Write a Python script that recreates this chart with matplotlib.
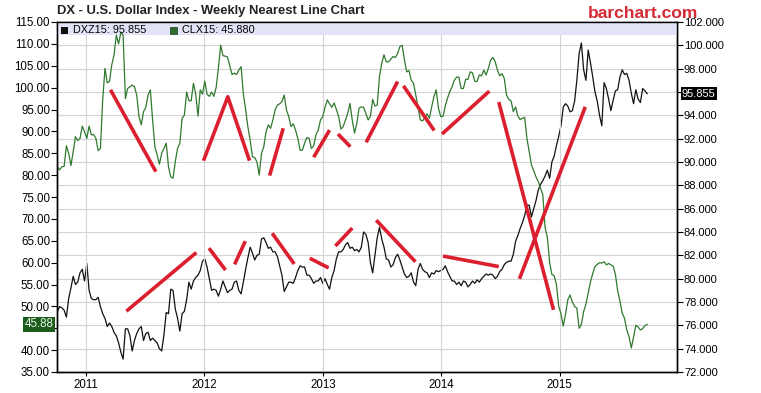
import numpy as np
import pandas as pd
import matplotlib
matplotlib.use("Agg")
import matplotlib.pyplot as plt
import matplotlib.dates as mdates
from matplotlib.patches import Rectangle
from matplotlib.ticker import FuncFormatter

plt.rcParams['font.family'] = ['Liberation Sans', 'DejaVu Sans']

# weekly closes
weeks = pd.date_range('2010-10-04', periods=261, freq='7D')

# CLX15 crude oil (left axis)
crude = [
    81.9, 81.2, 81.9, 82.0, 86.7, 85.0, 82.2, 85.4, 88.8, 87.9,
    88.4, 91.2, 89.9, 88.4, 91.2, 89.2, 89.3, 88.4, 85.6, 86.1,
    97.2, 104.4, 101.1, 101.4, 105.2, 107.5, 112.0, 110.0, 112.6, 112.0,
    97.5, 99.8, 100.2, 100.6, 100.2, 98.3, 93.4, 91.5, 94.5, 95.5,
    98.3, 99.5, 92.6, 86.5, 84.6, 82.5, 85.0, 86.1, 87.3, 81.9,
    79.6, 79.3, 83.1, 86.1, 87.3, 93.0, 93.7, 99.0, 97.0, 97.0,
    101.0, 98.5, 93.5, 99.5, 98.5, 101.5, 98.5, 98.0, 99.0, 98.0,
    100.0, 104.5, 109.7, 107.3, 107.2, 107.0, 105.0, 103.0, 103.3, 103.0,
    104.0, 104.8, 98.5, 95.0, 91.0, 88.0, 84.2, 84.0, 83.0, 80.0,
    85.0, 86.5, 89.9, 91.5, 90.7, 92.6, 94.9, 96.0, 96.3, 96.8,
    98.3, 94.9, 93.4, 91.1, 91.7, 90.3, 88.4, 85.7, 85.7, 87.3,
    88.6, 88.4, 86.1, 86.7, 89.2, 90.3, 92.6, 93.4, 95.5, 97.2,
    96.3, 95.5, 96.5, 95.0, 93.4, 90.5, 91.1, 92.6, 94.1, 96.4,
    92.6, 89.6, 91.8, 95.3, 95.6, 95.5, 94.1, 92.6, 93.4, 97.3,
    95.8, 96.0, 102.5, 105.6, 107.5, 105.9, 105.9, 106.5, 107.1, 106.9,
    107.8, 109.4, 109.7, 106.3, 103.6, 103.9, 101.7, 101.0, 98.3, 95.6,
    92.6, 92.4, 93.2, 94.0, 93.0, 95.6, 97.9, 99.5, 95.3, 93.4,
    93.4, 95.8, 97.6, 99.1, 100.2, 101.7, 102.4, 102.4, 99.8, 99.8,
    101.9, 101.9, 103.6, 103.4, 101.4, 101.4, 102.9, 102.7, 104.0, 102.9,
    104.4, 106.3, 106.9, 105.9, 104.0, 102.7, 103.2, 102.1, 98.3, 97.3,
    97.0, 94.5, 95.6, 93.5, 92.7, 93.0, 93.2, 88.4, 85.4, 82.3,
    81.0, 79.6, 78.5, 77.0, 75.5, 68.0, 65.8, 60.0, 57.3, 57.0,
    55.0, 50.0, 48.3, 45.5, 48.2, 51.5, 52.6, 51.0, 50.0, 49.6,
    45.0, 45.9, 48.8, 50.5, 53.0, 55.6, 57.5, 59.1, 59.6, 60.0,
    59.9, 60.2, 59.5, 59.8, 59.5, 59.2, 57.3, 53.5, 51.2, 48.4,
    47.3, 44.6, 43.1, 40.5, 43.0, 45.7, 45.3, 44.6, 44.9, 45.6,
    45.88,
]

# DXZ15 dollar index (right axis)
dollar = [
    77.2, 77.6, 77.5, 77.3, 76.7, 78.3, 79.2, 80.2, 79.5, 79.7,
    80.5, 80.8, 79.8, 81.3, 79.0, 78.3, 78.2, 78.2, 78.4, 77.6,
    77.0, 76.6, 75.9, 76.2, 75.9, 75.4, 75.1, 74.5, 73.7, 73.1,
    75.7, 75.7, 75.1, 73.8, 74.7, 75.3, 75.7, 75.9, 74.7, 75.3,
    75.4, 74.7, 74.9, 74.7, 74.5, 74.0, 73.8, 75.2, 77.1, 77.0,
    79.1, 79.0, 77.4, 76.6, 75.5, 77.0, 77.2, 78.2, 79.7, 79.1,
    79.8, 80.1, 80.3, 80.7, 81.5, 81.7, 81.0, 80.0, 79.0, 79.1,
    79.0, 78.5, 79.1, 79.8, 79.3, 78.8, 79.0, 79.1, 79.7, 79.8,
    79.0, 78.7, 79.7, 80.8, 81.8, 82.7, 82.2, 81.6, 82.0, 82.1,
    83.4, 83.5, 83.1, 82.6, 82.7, 82.3, 82.3, 81.9, 81.1, 80.3,
    78.9, 79.3, 79.7, 79.7, 79.6, 80.1, 80.7, 81.1, 81.0, 81.0,
    80.3, 80.3, 80.0, 79.6, 79.8, 79.8, 80.1, 79.6, 80.0, 79.5,
    79.1, 80.1, 80.7, 81.7, 82.3, 82.3, 82.5, 82.9, 83.1, 82.6,
    82.7, 82.4, 82.5, 82.3, 82.7, 84.0, 83.8, 83.1, 81.4, 80.5,
    82.0, 83.5, 84.4, 83.4, 82.7, 81.7, 81.6, 81.0, 81.2, 81.8,
    82.1, 81.6, 81.0, 80.4, 80.1, 80.2, 80.5, 79.7, 79.4, 80.8,
    81.3, 80.8, 80.6, 80.5, 80.1, 80.5, 80.4, 80.7, 80.6, 80.7,
    80.8, 81.1, 80.6, 80.2, 79.8, 79.8, 79.5, 79.7, 79.4, 79.8,
    79.7, 79.3, 79.5, 79.8, 79.6, 79.9, 79.7, 80.0, 80.2, 80.4,
    80.3, 80.4, 80.3, 80.0, 80.2, 80.6, 80.8, 81.2, 81.4, 81.5,
    81.5, 82.1, 83.2, 83.7, 84.3, 84.8, 85.4, 86.3, 86.3, 85.3,
    86.0, 86.7, 87.6, 88.1, 88.4, 88.8, 89.3, 88.6, 90.0, 90.5,
    91.4, 92.2, 93.1, 94.7, 95.0, 94.8, 94.3, 94.4, 95.2, 97.0,
    99.3, 100.2, 97.9, 97.0, 99.6, 98.5, 97.3, 96.0, 95.2, 94.0,
    93.1, 96.8, 96.3, 95.4, 94.4, 95.3, 96.1, 96.2, 97.3, 97.9,
    97.5, 97.6, 97.0, 95.9, 95.0, 96.2, 95.4, 95.1, 96.3, 96.1,
    95.855,
]

# hand-drawn red trend lines (dates, left-axis values)
trend_lines = [
    (['2011-03-17', '2011-08-04'], [99.5, 80.8]),
    (['2011-12-29', '2012-03-13', '2012-05-19'], [83.3, 97.9, 83.3]),
    (['2012-07-20', '2012-08-31'], [79.9, 90.7]),
    (['2012-12-03', '2013-01-21'], [84.1, 90.3]),
    (['2013-02-16', '2013-03-26'], [89.4, 86.5]),
    (['2013-05-14', '2013-08-19'], [87.5, 101.4]),
    (['2013-09-06', '2013-12-10'], [100.4, 90.2]),
    (['2014-01-03', '2014-05-29'], [89.4, 99.2]),
    (['2014-06-27', '2014-12-13'], [96.7, 49.2]),
    (['2014-08-30', '2015-03-21'], [56.3, 95.6]),
    (['2011-05-05', '2011-12-07'], [48.9, 62.3]),
    (['2012-01-15', '2012-03-06'], [63.3, 58.3]),
    (['2012-04-03', '2012-05-06'], [59.6, 64.9]),
    (['2012-07-28', '2012-10-04'], [66.7, 59.7]),
    (['2012-11-21', '2013-01-18'], [61.0, 58.8]),
    (['2013-02-08', '2013-04-01'], [63.8, 67.9]),
    (['2013-06-14', '2013-10-13'], [69.7, 60.2]),
    (['2014-01-06', '2014-06-27'], [61.5, 59.1]),
]

# tick labels hidden behind the last-value boxes
hidden_left = [45]
hidden_right = [96]

fig = plt.figure(figsize=(7.61, 3.93), dpi=100)
ax = fig.add_axes([57 / 761, 21 / 393, 620 / 761, 350 / 393])
ax2 = ax.twinx()
ax.set_zorder(ax2.get_zorder() + 1)
ax.patch.set_visible(False)

ax2.plot(weeks, dollar, color='#111111', lw=0.9)
ax.plot(weeks, crude, color='#2f7a2f', lw=0.9, zorder=2)

for dates, vals in trend_lines:
    ax.plot(pd.to_datetime(dates), vals, color='#dc1f2e', lw=2.6,
            solid_capstyle='butt', zorder=4)

ax.set_xlim(pd.Timestamp('2010-10-03'), pd.Timestamp('2015-12-29'))
ax.set_ylim(35, 115)
ax.set_yticks(np.arange(35, 116, 5))
ax.yaxis.set_major_formatter(FuncFormatter(
    lambda v, p: '' if round(v) in hidden_left else '%.2f' % v))
ax2.set_ylim(72, 102)
ax2.set_yticks(np.arange(72, 103, 2))
ax2.yaxis.set_major_formatter(FuncFormatter(
    lambda v, p: '' if round(v) in hidden_right else '%.3f' % v))
ax.xaxis.set_major_locator(mdates.YearLocator())
ax.xaxis.set_major_formatter(mdates.DateFormatter('%Y'))

ax.set_axisbelow(True)
ax2.set_axisbelow(True)
ax2.grid(axis='y', color='#d4d4d4', lw=0.8)
ax.grid(axis='x', color='#d4d4d4', lw=0.8)

ax.tick_params(axis='y', direction='out', length=4, pad=1, labelsize=8.3)
ax.tick_params(axis='x', direction='out', length=3, pad=2, labelsize=8.3)
ax2.tick_params(axis='y', direction='out', length=4, pad=1, labelsize=8)
for a in (ax, ax2):
    for s in a.spines.values():
        s.set_color('black')
        s.set_linewidth(1)

# legend band across the top of the plot
ax.add_patch(Rectangle((0, 0.9637), 1, 0.0363, transform=ax.transAxes,
                       facecolor='#e3e3f7', edgecolor='none', zorder=1))
ax.add_patch(Rectangle((0.0065, 0.967), 0.0105, 0.019, transform=ax.transAxes,
                       facecolor='#111111', edgecolor='none', zorder=5))
ax.text(0.0258, 0.9775, 'DXZ15: 95.855', transform=ax.transAxes,
        ha='left', va='center', fontsize=7.8, zorder=5)
ax.add_patch(Rectangle((0.1823, 0.967), 0.0105, 0.019, transform=ax.transAxes,
                       facecolor='#2f6b2f', edgecolor='#1a3d1a', lw=0.5, zorder=5))
ax.text(0.2016, 0.9775, 'CLX15: 45.880', transform=ax.transAxes,
        ha='left', va='center', fontsize=7.8, zorder=5)

# last value boxes
ax.text(-0.006, crude[-1], '%.2f' % crude[-1], transform=ax.get_yaxis_transform(),
        ha='right', va='center', fontsize=8.3, color='#e8f5e8', clip_on=False,
        bbox=dict(boxstyle='square,pad=0.12', fc='#1d5c1d', ec='none'), zorder=6)
ax2.text(1.008, dollar[-1], '%.3f' % dollar[-1], transform=ax2.get_yaxis_transform(),
         ha='left', va='center', fontsize=8, color='white', clip_on=False,
         bbox=dict(boxstyle='square,pad=0.12', fc='black', ec='none'), zorder=6)

fig.text(57 / 761, 1 - 11 / 393, 'DX - U.S. Dollar Index - Weekly Nearest Line Chart',
         ha='left', va='center', fontsize=9.4, fontweight='bold', color='#222222')
fig.text(588 / 761, 1 - 13 / 393, 'barchart.com', ha='left', va='center',
         fontsize=12.6, fontweight='bold', color='#d42a35')

fig.savefig('out.png', dpi=100, facecolor='white')
